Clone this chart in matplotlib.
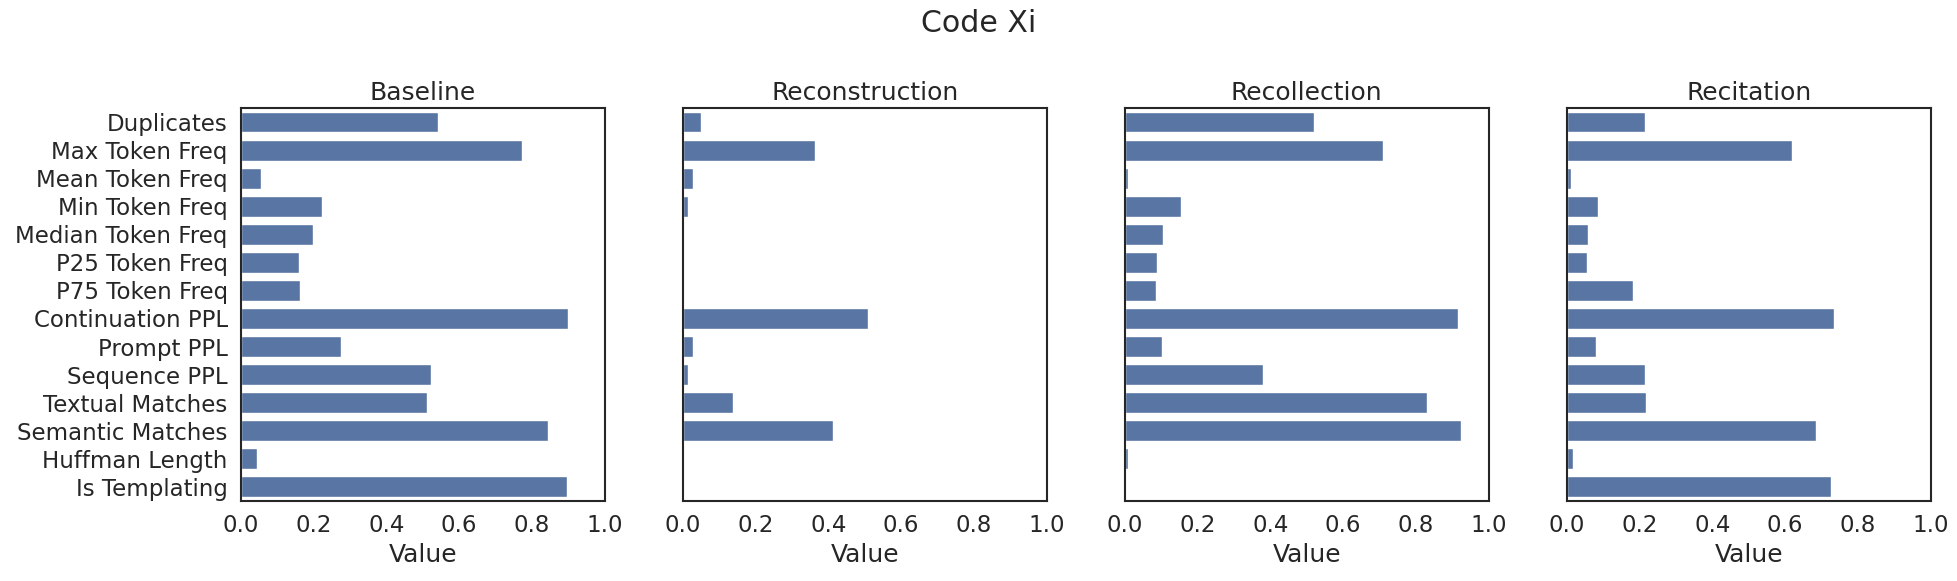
import numpy as np
import matplotlib
matplotlib.use("Agg")
import matplotlib.pyplot as plt
import seaborn as sns

sns.set_theme(style="white")
plt.rcParams['font.family'] = ['DejaVu Sans']

metrics = ["Duplicates", "Max Token Freq", "Mean Token Freq", "Min Token Freq",
           "Median Token Freq", "P25 Token Freq", "P75 Token Freq",
           "Continuation PPL", "Prompt PPL", "Sequence PPL", "Textual Matches",
           "Semantic Matches", "Huffman Length", "Is Templating"]

baseline = [0.542, 0.774, 0.056, 0.224, 0.199, 0.160, 0.163,
            0.900, 0.276, 0.523, 0.512, 0.845, 0.045, 0.897]
reconstruction = [0.049, 0.362, 0.027, 0.013, 0.0, 0.0, 0.0,
                  0.510, 0.027, 0.013, 0.138, 0.413, 0.0, 0.0]
recollection = [0.520, 0.710, 0.008, 0.154, 0.105, 0.088, 0.085,
                0.916, 0.102, 0.379, 0.830, 0.923, 0.010, 0.0]
recitation = [0.215, 0.619, 0.012, 0.086, 0.058, 0.055, 0.182,
              0.734, 0.080, 0.215, 0.218, 0.684, 0.018, 0.726]

panels = ["Baseline", "Reconstruction", "Recollection", "Recitation"]
series = [baseline, reconstruction, recollection, recitation]

fig, axes = plt.subplots(1, 4, figsize=(19.58, 5.81), dpi=100, sharey=True)
fig.subplots_adjust(left=0.123, right=0.986, top=0.814, bottom=0.138, wspace=0.215)

y = np.arange(len(metrics))
for ax, name, vals in zip(axes, panels, series):
    ax.barh(y, vals, height=0.74, color="#5975a4")
    ax.set_xlim(0, 1.0)
    ax.set_ylim(len(metrics) - 0.5, -0.5)
    ax.set_xticks([0.0, 0.2, 0.4, 0.6, 0.8, 1.0])
    ax.set_title(name, fontsize=18, color=".15")
    ax.set_xlabel("Value", fontsize=18, color=".15")
    # ticks hidden but keep seaborn's label offset (size + pad)
    ax.tick_params(axis="both", labelsize=16.5, colors=".15",
                   length=6, pad=3.5, bottom=False, left=False)
    for s in ax.spines.values():
        s.set_color(".15")
        s.set_linewidth(1.5)

axes[0].set_yticks(y)
axes[0].set_yticklabels(metrics)

fig.suptitle("Code Xi", fontsize=21.6, color=".15", y=0.985)
fig.savefig("out.png", dpi=100)
